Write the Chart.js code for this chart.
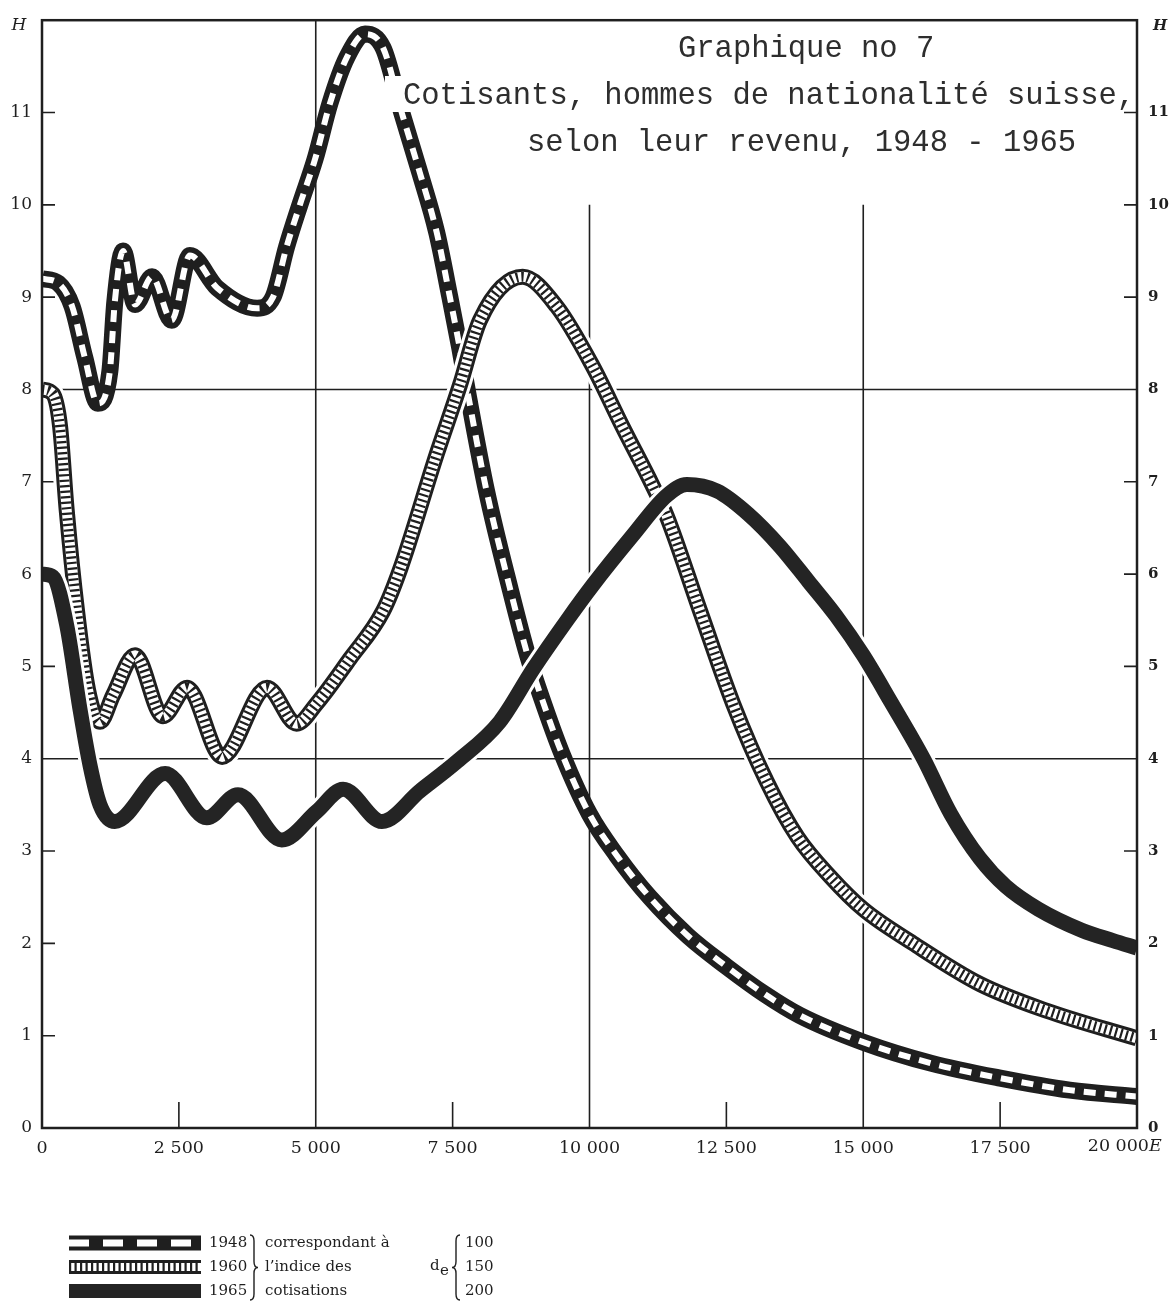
<!DOCTYPE html>
<html>
<head>
<meta charset="utf-8">
<script src="https://cdn.jsdelivr.net/npm/chart.js@4/dist/chart.umd.min.js"></script>
<style>
  html, body { margin: 0; padding: 0; background: #fff; }
  #wrap { width: 1176px; height: 1304px; }
</style>
</head>
<body>
<div id="wrap"><canvas id="chart" width="1176" height="1304"></canvas></div>
<script>
// Graphique no 7 — cotisants suisses selon le revenu (E) : nombre H

// revenu E (x) and H (y)
const x1948 = [0, 300, 550, 780, 1020, 1240, 1330, 1480, 1700, 2010, 2370, 2700, 3200, 3930, 4220, 4470, 4710, 4990, 5260, 5570, 5900, 6230, 6570, 6900, 7210, 7450, 7630, 7780, 8120, 8550, 8870, 9130, 9500, 10000, 10500, 11100, 11800, 12500, 13200, 13840, 15000, 16250, 17500, 18770, 20000];
const h1948 = [9.2, 9.15, 8.9, 8.35, 7.85, 8.2, 8.95, 9.5, 8.92, 9.22, 8.75, 9.45, 9.1, 8.88, 9.0, 9.55, 10.0, 10.5, 11.1, 11.6, 11.85, 11.7, 11.0, 10.35, 9.7, 9.0, 8.45, 7.95, 6.9, 5.84, 5.12, 4.65, 4.05, 3.4, 2.95, 2.5, 2.08, 1.75, 1.45, 1.22, 0.93, 0.7, 0.54, 0.41, 0.34];

const x1960 = [0, 200, 330, 450, 640, 840, 1060, 1300, 1700, 2210, 2650, 3290, 4110, 4650, 5020, 5620, 6230, 6540, 7210, 7630, 8000, 8780, 9400, 10060, 10600, 11160, 11410, 12020, 12620, 13240, 13800, 14400, 15000, 15910, 17130, 18350, 20000];
const h1960 = [8.0, 7.95, 7.6, 6.7, 5.6, 4.75, 4.4, 4.69, 5.12, 4.46, 4.77, 4.02, 4.77, 4.38, 4.6, 5.08, 5.6, 6.05, 7.3, 8.04, 8.75, 9.22, 8.9, 8.25, 7.6, 6.95, 6.63, 5.6, 4.6, 3.75, 3.15, 2.72, 2.37, 2.0, 1.56, 1.27, 0.97];

const x1965 = [0, 200, 450, 690, 880, 1060, 1330, 2250, 3010, 3580, 4380, 5020, 5500, 6210, 6900, 7580, 8360, 8970, 9590, 10060, 10790, 11410, 11780, 12330, 12900, 13480, 14000, 14500, 15000, 15500, 16100, 16600, 17130, 17600, 18200, 19000, 19560, 20000];
const h1965 = [6.0, 5.97, 5.45, 4.55, 3.92, 3.5, 3.32, 3.84, 3.36, 3.61, 3.12, 3.43, 3.67, 3.32, 3.65, 3.97, 4.4, 4.97, 5.5, 5.88, 6.42, 6.85, 6.97, 6.9, 6.65, 6.3, 5.92, 5.55, 5.12, 4.62, 4.0, 3.4, 2.92, 2.62, 2.37, 2.14, 2.03, 1.95];

const incomeTicks = [0, 2500, 5000, 7500, 10000, 12500, 15000, 17500, 20000];
const hTicks = [0, 1, 2, 3, 4, 5, 6, 7, 8, 9, 10, 11];

const titleLines = ['Graphique no 7', 'Cotisants, hommes de nationalité suisse,', 'selon leur revenu, 1948 - 1965'];
const legendYears = ['1948', '1960', '1965'];
const legendWords = ['correspondant à', 'l\u2019indice des', 'cotisations'];
const legendIndex = ['100', '150', '200'];

const INK = '#1f1f1f';
const PAPER = '#ffffff';
const SERIF = '"DejaVu Serif", "Liberation Serif", serif';

// stroke layers for each year's band (drawn bottom to top); halo = white gap round a band
const bandStyles = [
  [{ color: INK, width: 17 }, { color: PAPER, width: 6, dash: [12, 9] }],
  [{ color: PAPER, width: 22, halo: true }, { color: INK, width: 16 }, { color: PAPER, width: 10 }, { color: INK, width: 10, dash: [2.2, 3.3] }],
  [{ color: PAPER, width: 21, halo: true }, { color: '#242424', width: 15 }],
];
const legendStyles = [
  [{ color: INK, width: 15 }, { color: PAPER, width: 7, dash: [20, 14] }],
  [{ color: INK, width: 14 }, { color: PAPER, width: 8 }, { color: INK, width: 8, dash: [2.2, 3.3] }],
  [{ color: '#242424', width: 14 }],
];

const pts = (xs, ys) => xs.map((x, i) => ({ x, y: ys[i] }));
const series = [pts(x1948, h1948), pts(x1960, h1960), pts(x1965, h1965)];

const datasets = [];
let order = 100;
series.forEach((data, s) => {
  bandStyles[s].forEach(st => {
    datasets.push({
      label: legendYears[s],
      data,
      borderColor: st.color,
      borderWidth: st.width,
      borderDash: st.dash || [],
      borderCapStyle: 'butt',
      borderJoinStyle: 'round',
      cubicInterpolationMode: 'monotone',
      pointRadius: 0,
      pointHoverRadius: 0,
      fill: false,
      clip: { left: 0, right: 0, top: 14, bottom: 0 },
      order: order--,
    });
  });
});

function fmtIncome(v) {
  if (v < 1000) return String(v);
  return Math.floor(v / 1000) + ' ' + String(v % 1000).padStart(3, '0');
}

function strokeBand(ctx, x0, x1, y, styles) {
  styles.forEach(st => {
    ctx.save();
    ctx.strokeStyle = st.color;
    ctx.lineWidth = st.width;
    ctx.setLineDash(st.dash || []);
    ctx.lineCap = 'butt';
    ctx.beginPath();
    ctx.moveTo(x0, y);
    ctx.lineTo(x1, y);
    ctx.stroke();
    ctx.restore();
  });
}

function brace(ctx, x, y1, y2, dir) {
  const w = 4 * dir, r = 6, mid = (y1 + y2) / 2;
  ctx.beginPath();
  ctx.moveTo(x, y1);
  ctx.quadraticCurveTo(x + w, y1, x + w, y1 + r);
  ctx.lineTo(x + w, mid - r);
  ctx.quadraticCurveTo(x + w, mid, x + 2 * w, mid);
  ctx.quadraticCurveTo(x + w, mid, x + w, mid + r);
  ctx.lineTo(x + w, y2 - r);
  ctx.quadraticCurveTo(x + w, y2, x, y2);
  ctx.stroke();
}

const decor = {
  id: 'decor',
  beforeDatasetsDraw(chart) {
    const { ctx, chartArea: a, scales: { x, y } } = chart;
    ctx.save();
    ctx.strokeStyle = INK;
    ctx.lineWidth = 1.6;
    ctx.beginPath();
    [4, 8].forEach(v => {
      const py = y.getPixelForValue(v);
      ctx.moveTo(a.left, py);
      ctx.lineTo(a.right, py);
    });
    [[5000, 12], [10000, 10], [15000, 10]].forEach(([v, top]) => {
      const px = x.getPixelForValue(v);
      ctx.moveTo(px, a.bottom);
      ctx.lineTo(px, y.getPixelForValue(top));
    });
    hTicks.slice(1).forEach(v => {
      const py = y.getPixelForValue(v);
      ctx.moveTo(a.left, py); ctx.lineTo(a.left + 13, py);
      ctx.moveTo(a.right, py); ctx.lineTo(a.right - 13, py);
    });
    [2500, 7500, 12500, 17500].forEach(v => {
      const px = x.getPixelForValue(v);
      ctx.moveTo(px, a.bottom);
      ctx.lineTo(px, a.bottom - 26);
    });
    ctx.stroke();
    ctx.restore();
  },
  afterDatasetsDraw(chart) {
    const { ctx, chartArea: a, scales: { x } } = chart;
    ctx.save();

    // title, typed over the plate
    ctx.font = '30.5px "Liberation Mono", monospace';
    ctx.textBaseline = 'alphabetic';
    const tx = [678, 403, 527], ty = [57, 104, 151];
    ctx.fillStyle = PAPER;
    ctx.fillRect(tx[1] - 18, 76, 40, 36);
    ctx.fillStyle = '#2e2e2e';
    titleLines.forEach((t, i) => ctx.fillText(t, tx[i], ty[i]));

    // frame
    ctx.strokeStyle = INK;
    ctx.lineWidth = 2.5;
    ctx.strokeRect(a.left, a.top, a.right - a.left, a.bottom - a.top);

    // axis letters
    ctx.fillStyle = INK;
    ctx.textBaseline = 'middle';
    ctx.textAlign = 'center';
    ctx.font = 'italic 17px ' + SERIF;
    ctx.fillText('H', 19, 26);
    ctx.font = 'bold italic 15px ' + SERIF;
    ctx.fillText('H', 1160, 26);

    ctx.textBaseline = 'top';
    ctx.font = '17.5px ' + SERIF;
    ctx.textAlign = 'right';
    const ex = x.getPixelForValue(20000) + 12;
    ctx.fillText(fmtIncome(20000), ex, a.bottom + 10);
    ctx.textAlign = 'left';
    ctx.font = 'italic 17.5px ' + SERIF;
    ctx.fillText('E', ex, a.bottom + 10);

    // legend
    const rows = [1243, 1267, 1291];
    rows.forEach((ry, i) => {
      strokeBand(ctx, 69, 201, ry, legendStyles[i]);
      ctx.fillStyle = INK;
      ctx.textAlign = 'left';
      ctx.textBaseline = 'middle';
      ctx.font = '15px ' + SERIF;
      ctx.fillText(legendYears[i], 209, ry);
      ctx.fillText(legendWords[i], 265, ry);
      ctx.fillText(legendIndex[i], 465, ry);
    });
    ctx.lineWidth = 1.4;
    ctx.strokeStyle = INK;
    brace(ctx, 250, 1235, 1300, 1);
    brace(ctx, 460, 1235, 1300, -1);
    ctx.font = '15px ' + SERIF;
    ctx.fillText('d', 430, 1266);
    ctx.fillText('e', 440, 1271);
    ctx.restore();
  },
};

new Chart(document.getElementById('chart'), {
  type: 'line',
  data: { datasets },
  options: {
    responsive: false,
    animation: false,
    devicePixelRatio: 1,
    layout: { padding: { top: 16, bottom: 136, left: 0, right: 0 } },
    plugins: { legend: { display: false }, tooltip: { enabled: false } },
    scales: {
      x: {
        type: 'linear',
        min: 0,
        max: 20000,
        afterBuildTicks: s => { s.ticks = incomeTicks.map(v => ({ value: v })); },
        afterFit: s => { s.height = 40; },
        grid: { display: false, drawTicks: false },
        border: { display: false },
        ticks: {
          padding: 10,
          maxRotation: 0,
          autoSkip: false,
          color: INK,
          font: { family: SERIF, size: 17.5 },
          callback: v => (v === 20000 ? '' : fmtIncome(v)),
        },
      },
      y: {
        position: 'left',
        min: 0,
        max: 12,
        afterBuildTicks: s => { s.ticks = hTicks.map(v => ({ value: v })); },
        afterFit: s => { s.width = 42; },
        grid: { display: false, drawTicks: false },
        border: { display: false },
        ticks: { padding: 10, color: INK, font: { family: SERIF, size: 17 } },
      },
      y2: {
        position: 'right',
        min: 0,
        max: 12,
        afterBuildTicks: s => { s.ticks = hTicks.map(v => ({ value: v })); },
        afterFit: s => { s.width = 39; },
        grid: { display: false, drawTicks: false },
        border: { display: false },
        ticks: { padding: 11, color: INK, font: { family: SERIF, size: 15, weight: 'bold' } },
      },
    },
  },
  plugins: [decor],
});
</script>
</body>
</html>
